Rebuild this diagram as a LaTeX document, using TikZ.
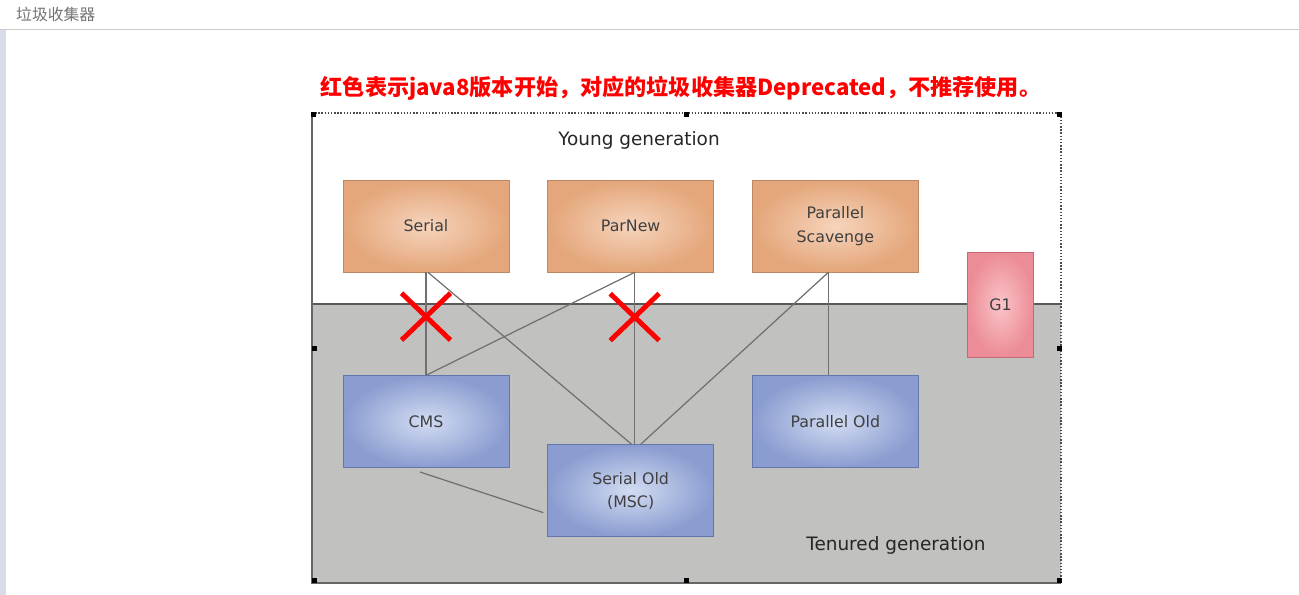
\documentclass[tikz,border=0pt]{standalone}
\usepackage{fontspec}
\setmainfont{DejaVu Sans}
\newfontfamily\cjk{Noto Sans CJK SC}
\usepackage{xcolor}
\usetikzlibrary{positioning,calc,shapes.misc}

\definecolor{yout}{RGB}{228,166,122}
\definecolor{yin}{RGB}{246,212,188}
\definecolor{ybord}{RGB}{190,136,100}
\definecolor{bout}{RGB}{138,156,208}
\definecolor{bin}{RGB}{210,220,242}
\definecolor{bbord}{RGB}{100,118,176}
\definecolor{gout}{RGB}{236,140,150}
\definecolor{gin}{RGB}{250,196,200}
\definecolor{gbord}{RGB}{196,104,116}
\definecolor{tenured}{RGB}{193,193,191}
\definecolor{linkgray}{RGB}{112,112,112}
\definecolor{stripblue}{RGB}{214,220,232}

\begin{document}
\begin{tikzpicture}[x=0.02cm,y=-0.02cm,node distance=0.76cm]
\tikzstyle{ybox}=[draw=ybord,inner color=yin,outer color=yout,minimum width=3.32cm,minimum height=1.84cm,align=center,text=black!75,font=\fontsize{9}{13.5}\selectfont]
\tikzstyle{obox}=[draw=bbord,inner color=bin,outer color=bout,minimum width=3.32cm,minimum height=1.84cm,align=center,text=black!75,font=\fontsize{9}{13}\selectfont]
\tikzstyle{gbox}=[draw=gbord,inner color=gin,outer color=gout,minimum width=1.32cm,minimum height=2.1cm,align=center,text=black!75,font=\fontsize{9}{13}\selectfont]
\tikzstyle{link}=[draw=linkgray,line width=0.7pt]
\tikzstyle{nogo}=[cross out,draw=red,line width=2.8pt,minimum width=0.88cm,minimum height=0.84cm,inner sep=0pt]
\tikzstyle{genlabel}=[text=black!85,font=\fontsize{10.5}{12}\selectfont]
\useasboundingbox (0,0) rectangle (1299,595);
% page header
\fill[stripblue] (0,30) rectangle (6,595);
\draw[black!20] (0,29) -- (1299,29);
\node[anchor=west,text=black!55,font=\cjk\fontsize{9}{11}\selectfont] (pagetitle) at (10,14) {垃圾收集器};
\node[text=red,font=\cjk\bfseries\fontsize{12.6}{15}\selectfont] (note) at (681,88) {红色表示java8版本开始，对应的垃圾收集器Deprecated，不推荐使用。};
% generations
\fill[tenured] (312,304) rectangle (1061,583);
\draw[black!65,line width=0.8pt] (312,304) -- (1061,304);
\node[genlabel] (younglbl) at (639,140) {Young generation};
\node[genlabel] (oldlbl) at (896,545) {Tenured generation};
% young collectors
\node[ybox] (serial) at (426,226) {Serial};
\node[ybox,right=of serial] (parnew) {ParNew};
\node[ybox,right=of parnew] (scavenge) {Parallel\\Scavenge};
\node[gbox] (g1) at (1000.5,304.5) {G1};
% old collectors
\node[obox,below=2.06cm of serial] (cms) {CMS};
\node[obox,below=3.44cm of parnew] (serialold) {Serial Old\\(MSC)};
\node[obox,below=2.06cm of scavenge] (parold) {Parallel Old};
% pairings
\draw[link] (serial.south) -- (cms.north);
\draw[link] ([xshift=0.04cm]serial.south) -- ([xshift=0.02cm]serialold.north);
\draw[link] ([xshift=0.08cm]parnew.south) -- (cms.north);
\draw[link] ([xshift=0.08cm]parnew.south) -- ([xshift=0.08cm]serialold.north);
\draw[link] ([xshift=-0.14cm]scavenge.south) -- ([xshift=0.2cm]serialold.north);
\draw[link] ([xshift=-0.14cm]scavenge.south) -- ([xshift=-0.14cm]parold.north);
\draw[link] ([xshift=-0.12cm,yshift=-0.08cm]cms.south) -- ([xshift=-0.08cm,yshift=-0.44cm]serialold.west);
% deprecated pairs
\node[nogo] (nogo1) at ($(serial.south)!0.43!(cms.north)$) {};
\node[nogo] (nogo2) at ($([xshift=0.08cm]parnew.south)!0.26!([xshift=0.08cm]serialold.north)$) {};
% frame
\draw[black!60,line width=0.8pt] (312,113) -- (312,583) -- (1061,583);
\draw[black!70,densely dotted,line width=0.8pt] (312,113) -- (1061,113) -- (1061,583);
\foreach \hx/\hy in {313/114,686/114,1059/114,314/348,1059/348,314/580,686/580,1059/580}
  \fill[black] (\hx-2.5,\hy-2.5) rectangle ++(5,5);
\end{tikzpicture}
\end{document}
